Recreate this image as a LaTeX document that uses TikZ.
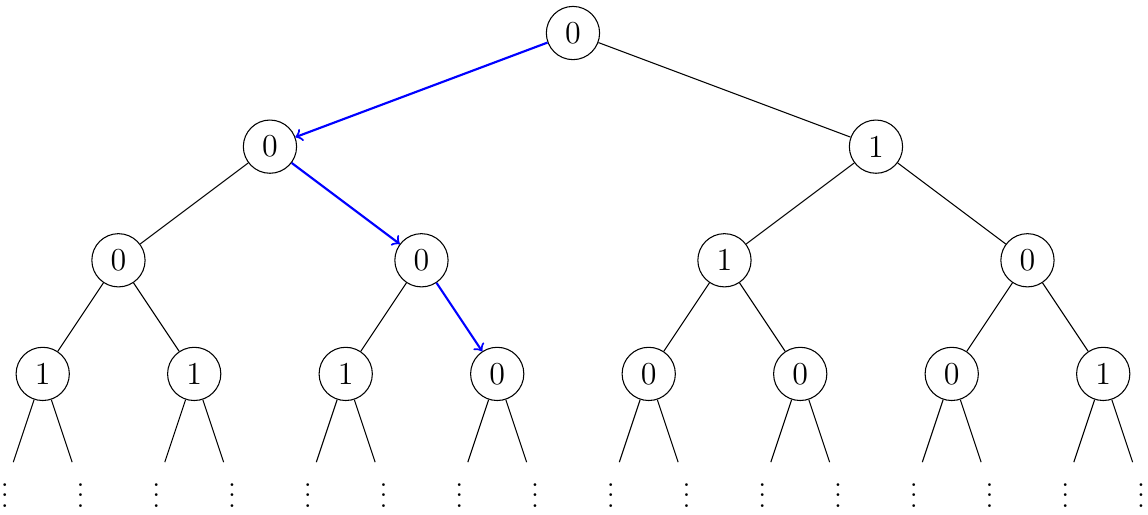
\documentclass[tikz,border=0pt]{standalone}
\begin{document}
\begin{tikzpicture}[
  tn/.style={circle,draw,minimum size=20pt,inner sep=0pt,font=\large},
  lf/.style={inner xsep=.3333em,inner ysep=1.8pt},
  path/.style={->,blue,thick}
]
\useasboundingbox (-7.564,-6.350) rectangle (7.591,0.436);
% level 0
\node[tn] (r) at (0,0) {0};
% level 1
\node[tn] (a) at (-4,-1.5) {0};
\node[tn] (b) at (4,-1.5) {1};
% level 2
\node[tn] (aa) at (-6,-3) {0};
\node[tn] (ab) at (-2,-3) {0};
\node[tn] (ba) at (2,-3) {1};
\node[tn] (bb) at (6,-3) {0};
% level 3
\node[tn] (aaa) at (-7,-4.5) {1};
\node[tn] (aab) at (-5,-4.5) {1};
\node[tn] (aba) at (-3,-4.5) {1};
\node[tn] (abb) at (-1,-4.5) {0};
\node[tn] (baa) at (1,-4.5) {0};
\node[tn] (bab) at (3,-4.5) {0};
\node[tn] (bba) at (5,-4.5) {0};
\node[tn] (bbb) at (7,-4.5) {1};
% edges
\draw[path] (r) -- (a);
\draw (r) -- (b);
\draw (a) -- (aa);
\draw[path] (a) -- (ab);
\draw (b) -- (ba);
\draw (b) -- (bb);
\draw (aa) -- (aaa);
\draw (aa) -- (aab);
\draw (ab) -- (aba);
\draw[path] (ab) -- (abb);
\draw (ba) -- (baa);
\draw (ba) -- (bab);
\draw (bb) -- (bba);
\draw (bb) -- (bbb);
% leaves
\foreach \n/\x in {aaa/-7,aab/-5,aba/-3,abb/-1,baa/1,bab/3,bba/5,bbb/7}{
  \node[lf] (\n l) at (\x-0.5,-6) {$\vdots$};
  \node[lf] (\n r) at (\x+0.5,-6) {$\vdots$};
  \draw (\n) -- (\n l);
  \draw (\n) -- (\n r);
}
\end{tikzpicture}
\end{document}
